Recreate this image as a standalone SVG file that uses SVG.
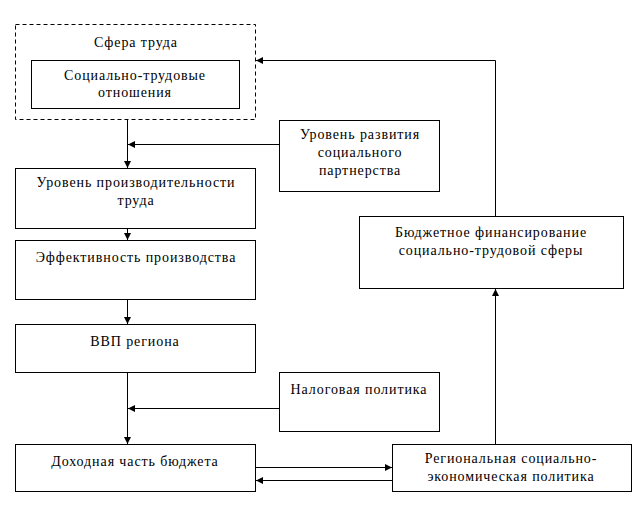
<svg xmlns="http://www.w3.org/2000/svg" width="640" height="528" viewBox="0 0 640 528">
<style>
.box{fill:#fff;stroke:#000;stroke-width:1}
.dash{fill:none;stroke:#000;stroke-width:1;stroke-dasharray:4 3}
.ln{fill:none;stroke:#000;stroke-width:1;marker-end:url(#ah)}
text{font-family:"Liberation Serif","Times New Roman","DejaVu Serif",serif;font-size:14px;letter-spacing:0.9px;fill:#000;text-anchor:middle}
</style>
<defs>
<marker id="ah" markerUnits="userSpaceOnUse" markerWidth="8" markerHeight="8" viewBox="0 0 8 8" refX="7" refY="4" orient="auto">
<path d="M0,0.5 L7,4 L0,7.5 z" fill="#000"/>
</marker>
</defs>
<rect width="640" height="528" fill="#fff"/>
<g id="connectors">
<line class="ln" x1="127.5" y1="120" x2="127.5" y2="168"/>
<line class="ln" x1="280" y1="144.5" x2="128" y2="144.5"/>
<line class="ln" x1="127.5" y1="228" x2="127.5" y2="240"/>
<line class="ln" x1="127.5" y1="300" x2="127.5" y2="324"/>
<line class="ln" x1="127.5" y1="372" x2="127.5" y2="444"/>
<line class="ln" x1="280" y1="408.5" x2="128" y2="408.5"/>
<line class="ln" x1="255" y1="467.5" x2="392" y2="467.5"/>
<line class="ln" x1="392" y1="480.5" x2="256" y2="480.5"/>
<line class="ln" x1="495.5" y1="444" x2="495.5" y2="289"/>
<polyline class="ln" points="495.5,216 495.5,60.5 256,60.5"/>
</g>
<g font-family="Liberation Serif, Times New Roman, serif">
<g id="sfera">
<rect class="dash" x="15.5" y="24.5" width="240" height="95"/>
<text x="136" y="47">Сфера труда</text>
</g>
<g id="sto">
<rect class="box" x="31.5" y="60.5" width="208" height="48"/>
<text x="135" y="80">Социально-трудовые</text>
<text x="135" y="97">отношения</text>
</g>
<g id="partner">
<rect class="box" x="279.5" y="120.5" width="160" height="71"/>
<text x="360" y="139">Уровень развития</text>
<text x="360" y="157">социального</text>
<text x="360" y="175">партнерства</text>
</g>
<g id="prod">
<rect class="box" x="15.5" y="168.5" width="240" height="60"/>
<text x="136" y="187">Уровень производительности</text>
<text x="136" y="205">труда</text>
</g>
<g id="eff">
<rect class="box" x="15.5" y="240.5" width="240" height="59"/>
<text x="136" y="262">Эффективность производства</text>
</g>
<g id="vvp">
<rect class="box" x="15.5" y="324.5" width="240" height="48"/>
<text x="135" y="346">ВВП региона</text>
</g>
<g id="nalog">
<rect class="box" x="279.5" y="372.5" width="160" height="59"/>
<text x="359" y="394">Налоговая политика</text>
</g>
<g id="dohod">
<rect class="box" x="15.5" y="444.5" width="240" height="47"/>
<text x="135" y="466">Доходная часть бюджета</text>
</g>
<g id="region">
<rect class="box" x="392.5" y="444.5" width="239" height="47"/>
<text x="511" y="463">Региональная социально-</text>
<text x="511" y="481">экономическая политика</text>
</g>
<g id="budget">
<rect class="box" x="359.5" y="216.5" width="264" height="72"/>
<text x="491" y="237">Бюджетное финансирование</text>
<text x="491" y="255">социально-трудовой сферы</text>
</g>
</g>
</svg>
